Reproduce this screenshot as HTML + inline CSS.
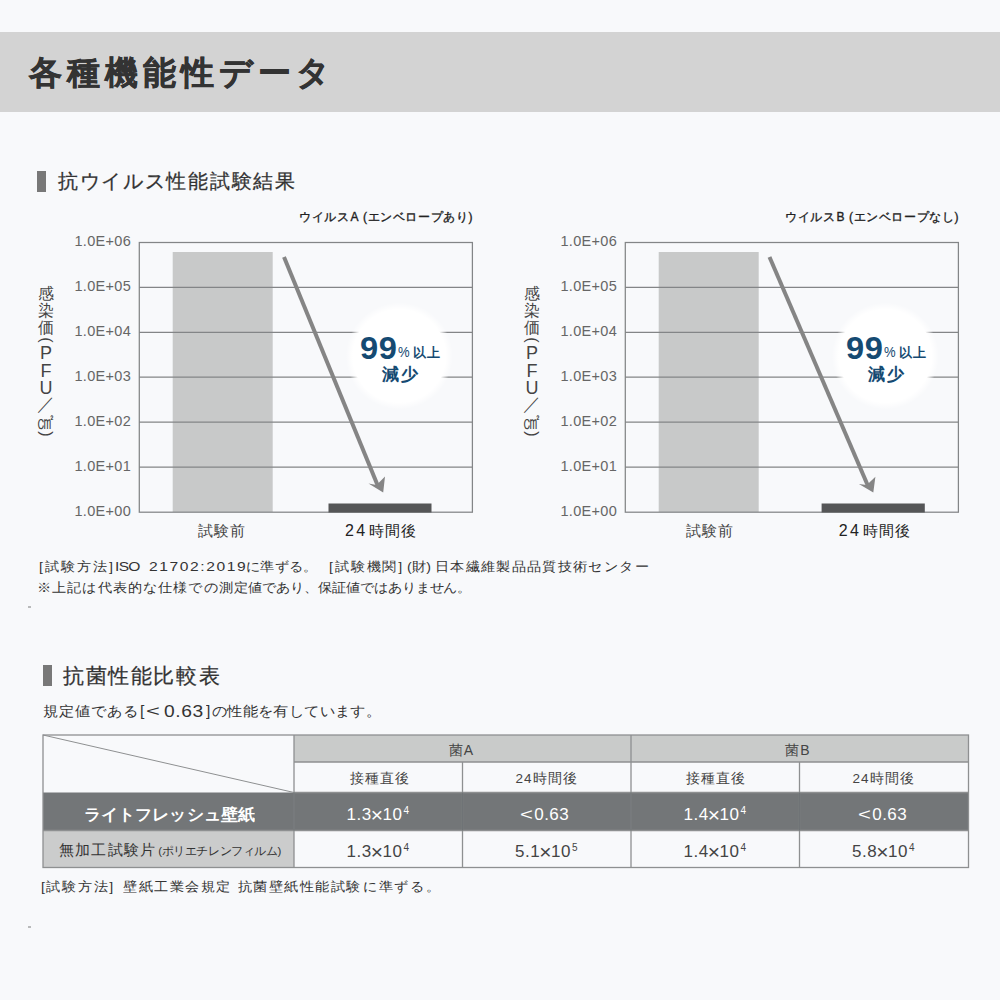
<!DOCTYPE html>
<html lang="ja">
<head>
<meta charset="utf-8">
<title>各種機能性データ</title>
<style>
*{margin:0;padding:0;box-sizing:border-box}
html,body{width:1000px;height:1000px;overflow:hidden}
body{position:relative;background:#f8f9fb;font-family:"Liberation Sans",sans-serif;color:#444;}
.t{position:absolute;white-space:nowrap;line-height:1;}
.hdr{position:absolute;left:0;top:32px;width:1000px;height:80px;background:#d3d3d3}
h1.t{left:29px;top:55.5px;font-size:33px;font-weight:bold;color:#333;letter-spacing:4.95px;-webkit-text-stroke:0.5px #333}
.mk{position:absolute;width:9.1px;height:20.4px;background:#787878}
h2.t{font-size:20px;font-weight:normal;color:#333;letter-spacing:1.7px;-webkit-text-stroke:0.25px #333}
.chart{position:absolute;top:0;width:500px;height:560px}
.chart svg{position:absolute;left:0;top:0}
.ct{font-size:12px;color:#222;right:27px;top:211px;font-weight:normal;letter-spacing:0.6px;-webkit-text-stroke:0.35px #222}
.ct i{font-style:normal;margin:0 4px 0 1px}
.tk{font-size:14.5px;color:#666;right:369px;text-align:right;letter-spacing:0.3px;margin-top:-1.3px}
.xl{font-size:14.5px;color:#444;top:523.5px;letter-spacing:1px}
.xl i{font-style:normal;letter-spacing:2.4px;font-size:16px;line-height:0;margin-right:1.3px}
.n99{font-size:30.5px;font-weight:bold;color:#154a72;left:359.5px;top:332.5px;letter-spacing:0.5px;transform:scaleX(1.07);transform-origin:0 0}
.pc{font-size:14.5px;color:#154a72;left:398px;top:345.3px;transform:scaleX(0.9);transform-origin:0 0}
.ij{font-size:12.5px;color:#154a72;left:412.5px;top:347px;font-weight:bold;letter-spacing:1.5px}
.gs{font-size:16.5px;font-weight:bold;color:#154a72;left:381.5px;top:366px;letter-spacing:2.5px}
.fn{font-size:13px;color:#333;left:38px;letter-spacing:1.2px}
.fn i,.sub i{font-style:normal;position:absolute;top:0;transform:scaleX(1.09);transform-origin:0 0}
.fn i.l,.sub i.l{transform:scaleX(1.2)}
.sub{font-size:14.4px;color:#333;left:42.5px;top:704px;letter-spacing:1.35px}
.tbl{position:absolute;left:42px;top:734px;width:927px;height:134px}
.tbl div{position:absolute}
.th{font-size:13.5px;color:#444;text-align:center;letter-spacing:1px}
.num{font-size:17px;text-align:center;color:#444;letter-spacing:0.5px;margin-top:2px}
.num sup{font-size:10px;vertical-align:baseline;position:relative;top:-6px;margin-left:1px}
.num i{font-style:normal;margin-right:4px;display:inline-block;transform:scaleX(1.3);transform-origin:0 50%}
.num u{text-decoration:none;font-size:21px;line-height:0;position:relative;top:1.5px;margin:0 -1px}
.w{color:#fff}
.rh1{font-size:15.5px;font-weight:bold;color:#fff;text-align:center;letter-spacing:0.05px;transform:scaleX(1.06)}
.rh2{font-size:14.5px;color:#333;text-align:center;letter-spacing:1.2px}
.rh2 span{font-size:11.5px;letter-spacing:-0.4px;margin-left:2px}
.vl{position:absolute;left:36px;top:285px;width:20px;color:#444;font-size:16px;text-align:center}
.vl b.L{font-size:18px}
.vl b{display:block;font-weight:normal;position:absolute;left:0;width:20px;line-height:1;text-align:center}
</style>
</head>
<body>
<div class="hdr"></div>
<h1 class="t">各種機能性データ</h1>

<div class="mk" style="left:37px;top:171.2px"></div>
<h2 class="t" style="left:58px;top:170.6px">抗ウイルス性能試験結果</h2>

<!-- chart A -->
<div class="chart" style="left:0">
<svg width="500" height="560" viewBox="0 0 500 560">
  <rect x="172.7" y="252" width="100" height="260" fill="#c8c9c9"/>
  <g stroke="#838587" stroke-width="1.25" fill="none">
    <path d="M139 287.4H472.5M139 332.3H472.5M139 377.2H472.5M139 422.1H472.5M139 467H472.5"/>
    <rect x="139.3" y="242.5" width="333.1" height="269.7"/>
  </g>
  <defs><radialGradient id="gA"><stop offset="0" stop-color="#fff"/><stop offset="0.87" stop-color="#fff"/><stop offset="1" stop-color="#fff" stop-opacity="0"/></radialGradient></defs>
  <circle cx="399.3" cy="356" r="53.5" fill="url(#gA)"/>
  <rect x="328.5" y="503.5" width="103" height="9" fill="#555657"/>
  <path d="M284 257L377.5 485" stroke="#858585" stroke-width="4" fill="none"/>
  <path d="M383.2 492.4L368.5 483.6L376.6 485L385 476.6Z" fill="#858585"/>
</svg>
<div class="t ct">ウイルス<i>A</i>(エンベロープあり)</div>
<div class="t tk" style="top:235px">1.0E+06</div>
<div class="t tk" style="top:280px">1.0E+05</div>
<div class="t tk" style="top:325px">1.0E+04</div>
<div class="t tk" style="top:370px">1.0E+03</div>
<div class="t tk" style="top:415px">1.0E+02</div>
<div class="t tk" style="top:460px">1.0E+01</div>
<div class="t tk" style="top:505px">1.0E+00</div>
<div class="vl"><b style="top:.8px">感</b><b style="top:17.8px">染</b><b style="top:34.5px">価</b><b style="top:47px;transform:rotate(90deg)">(</b><b class="L" style="top:58.5px">P</b><b class="L" style="top:76.5px">F</b><b class="L" style="top:94px">U</b><b style="top:110.5px;font-size:17.5px">／</b><b style="top:128.5px;transform:scale(1.08,1.45)">㎠</b><b style="top:141px;transform:rotate(90deg)">)</b></div>
<div class="t xl" style="left:198px">試験前</div>
<div class="t xl" style="left:345px;color:#222"><i>24</i>時間後</div>
<div class="t n99">99</div><div class="t pc">%</div><div class="t ij">以上</div>
<div class="t gs">減少</div>
</div>

<!-- chart B -->
<div class="chart" style="left:486px">
<svg width="500" height="560" viewBox="0 0 500 560">
  <rect x="172.7" y="252" width="100" height="260" fill="#c8c9c9"/>
  <g stroke="#838587" stroke-width="1.25" fill="none">
    <path d="M139 287.4H472.5M139 332.3H472.5M139 377.2H472.5M139 422.1H472.5M139 467H472.5"/>
    <rect x="139.3" y="242.5" width="333.1" height="269.7"/>
  </g>
  <circle cx="399.3" cy="356" r="53.5" fill="url(#gA)"/>
  <rect x="335.6" y="503.5" width="103.2" height="9" fill="#555657"/>
  <path d="M283.5 257L381.6 485" stroke="#858585" stroke-width="4" fill="none"/>
  <path d="M387.3 492.4L372.9 484L380.8 485.1L389.4 476.8Z" fill="#858585"/>
</svg>
<div class="t ct">ウイルス<i>B</i>(エンベロープなし)</div>
<div class="t tk" style="top:235px">1.0E+06</div>
<div class="t tk" style="top:280px">1.0E+05</div>
<div class="t tk" style="top:325px">1.0E+04</div>
<div class="t tk" style="top:370px">1.0E+03</div>
<div class="t tk" style="top:415px">1.0E+02</div>
<div class="t tk" style="top:460px">1.0E+01</div>
<div class="t tk" style="top:505px">1.0E+00</div>
<div class="vl"><b style="top:.8px">感</b><b style="top:17.8px">染</b><b style="top:34.5px">価</b><b style="top:47px;transform:rotate(90deg)">(</b><b class="L" style="top:58.5px">P</b><b class="L" style="top:76.5px">F</b><b class="L" style="top:94px">U</b><b style="top:110.5px;font-size:17.5px">／</b><b style="top:128.5px;transform:scale(1.08,1.45)">㎠</b><b style="top:141px;transform:rotate(90deg)">)</b></div>
<div class="t xl" style="left:200px">試験前</div>
<div class="t xl" style="left:352.7px;color:#222"><i>24</i>時間後</div>
<div class="t n99">99</div><div class="t pc">%</div><div class="t ij">以上</div>
<div class="t gs">減少</div>
</div>

<div class="t fn" style="top:560px;left:0;width:700px;height:16px"><i id="s1" style="left:38.5px;letter-spacing:1.7px">[試験方法]</i><i id="s2" class="l" style="left:115.3px;letter-spacing:-0.58px">ISO</i><i id="s3" class="l" style="left:149.1px;letter-spacing:1.33px">21702:2019</i><i id="s4" style="left:245.7px;letter-spacing:0.18px">に準ずる。</i><i id="s5" style="left:328.5px;letter-spacing:1.6px">[試験機関]</i><i id="s6" style="left:406.5px;letter-spacing:0.2px">(財)</i><i id="s7" style="left:435.2px;letter-spacing:1.08px">日本繊維製品品質技術センター</i></div>
<div class="t fn" style="top:580.5px;left:0;width:600px;height:16px"><i id="s8" style="left:36.7px;letter-spacing:0.89px">※上記は代表的な仕様での測定</i><i id="s9" style="left:248.0px;letter-spacing:-0.19px">値であり、保証値ではありません。</i></div>

<div class="mk" style="left:42.5px;top:665.2px"></div>
<h2 class="t" style="left:63px;top:665px;font-size:21px;letter-spacing:1.6px">抗菌性能比較表</h2>
<div class="t sub" style="left:0;width:500px;height:18px"><i id="s10" style="left:42.6px;letter-spacing:0.77px">規定値である</i><i id="s11" style="left:139.5px;letter-spacing:1.35px">[</i><i id="s12" style="left:146.0px;transform:scaleX(1.65);transform-origin:0 0;letter-spacing:1.35px">&lt;</i><i id="s13" class="l" style="left:163.5px;letter-spacing:0.5px;font-size:16px;top:-.5px">0.63</i><i id="s14" style="left:205.8px;letter-spacing:1.35px">]</i><i id="s15" style="left:211.5px;letter-spacing:0.1px">の性能を有しています。</i></div>

<div class="tbl">
<svg width="1000" height="150" viewBox="0 725 1000 150" style="position:absolute;left:-42px;top:-9px">
  <rect x="294" y="735" width="674.5" height="27" fill="#c9cbca"/>
  <rect x="43" y="792.5" width="925.5" height="38" fill="#737678"/>
  <rect x="43" y="830.5" width="251" height="37" fill="#cbcccc"/>
  <g stroke="#8e9091" stroke-width="1.3" fill="none">
    <rect x="43" y="735" width="925.5" height="132.5"/>
    <path d="M294 735V867.5M631 735V867.5M462.5 762V867.5M799.5 762V867.5M294 762H968.5M294 792.5H968.5M43 830.5H968.5"/>
    <path d="M43 735L294 792.5" stroke-width="1"/>
  </g>
  <path d="M294 792.5V830.5M462.5 792.5V830.5M631 792.5V830.5M799.5 792.5V830.5" stroke="#6f7376" stroke-width="1.2"/>
</svg>
<div class="t th" style="left:251px;width:337px;top:8.7px;font-size:14px">菌A</div>
<div class="t th" style="left:587.5px;width:337px;top:8.7px;font-size:14px">菌B</div>
<div class="t th" style="left:254px;width:168px;top:38px">接種直後</div>
<div class="t th" style="left:420px;width:169px;top:38px">24時間後</div>
<div class="t th" style="left:590px;width:168px;top:38px">接種直後</div>
<div class="t th" style="left:757px;width:169px;top:38px">24時間後</div>
<div class="t rh1" style="left:1.5px;margin-top:0.5px;width:251px;top:72px">ライトフレッシュ壁紙</div>
<div class="t num w" style="left:252px;width:168px;top:70px">1.3<u>×</u>10<sup>4</sup></div>
<div class="t num w" style="left:418px;width:169px;top:70px"><i>&lt;</i>0.63</div>
<div class="t num w" style="left:589px;width:168px;top:70px">1.4<u>×</u>10<sup>4</sup></div>
<div class="t num w" style="left:756px;width:169px;top:70px"><i>&lt;</i>0.63</div>
<div class="t rh2" style="left:2.5px;width:251px;top:109px">無加工試験片<span>(ポリエチレンフィルム)</span></div>
<div class="t num" style="left:252px;width:168px;top:107px">1.3<u>×</u>10<sup>4</sup></div>
<div class="t num" style="left:420px;width:169px;top:107px">5.1<u>×</u>10<sup>5</sup></div>
<div class="t num" style="left:589px;width:168px;top:107px">1.4<u>×</u>10<sup>4</sup></div>
<div class="t num" style="left:757px;width:169px;top:107px">5.8<u>×</u>10<sup>4</sup></div>
</div>

<div class="t fn" style="top:880px;left:0;width:600px;height:16px"><i id="s16" style="left:41.1px;letter-spacing:1.4px">[試験方法]</i><i id="s17" style="left:122.5px;letter-spacing:1.28px">壁紙工業会規定</i><i id="s18" style="left:238.1px;letter-spacing:1.2px">抗菌壁紙性能試験</i><i id="s19" style="left:362.5px;letter-spacing:1.39px">に準ずる。</i></div>
<div class="dot" style="position:absolute;left:28px;top:606px;width:3px;height:1.5px;background:#b9babb"></div>
<div class="dot" style="position:absolute;left:28px;top:926px;width:3px;height:1.5px;background:#b9babb"></div>
</body>
</html>
